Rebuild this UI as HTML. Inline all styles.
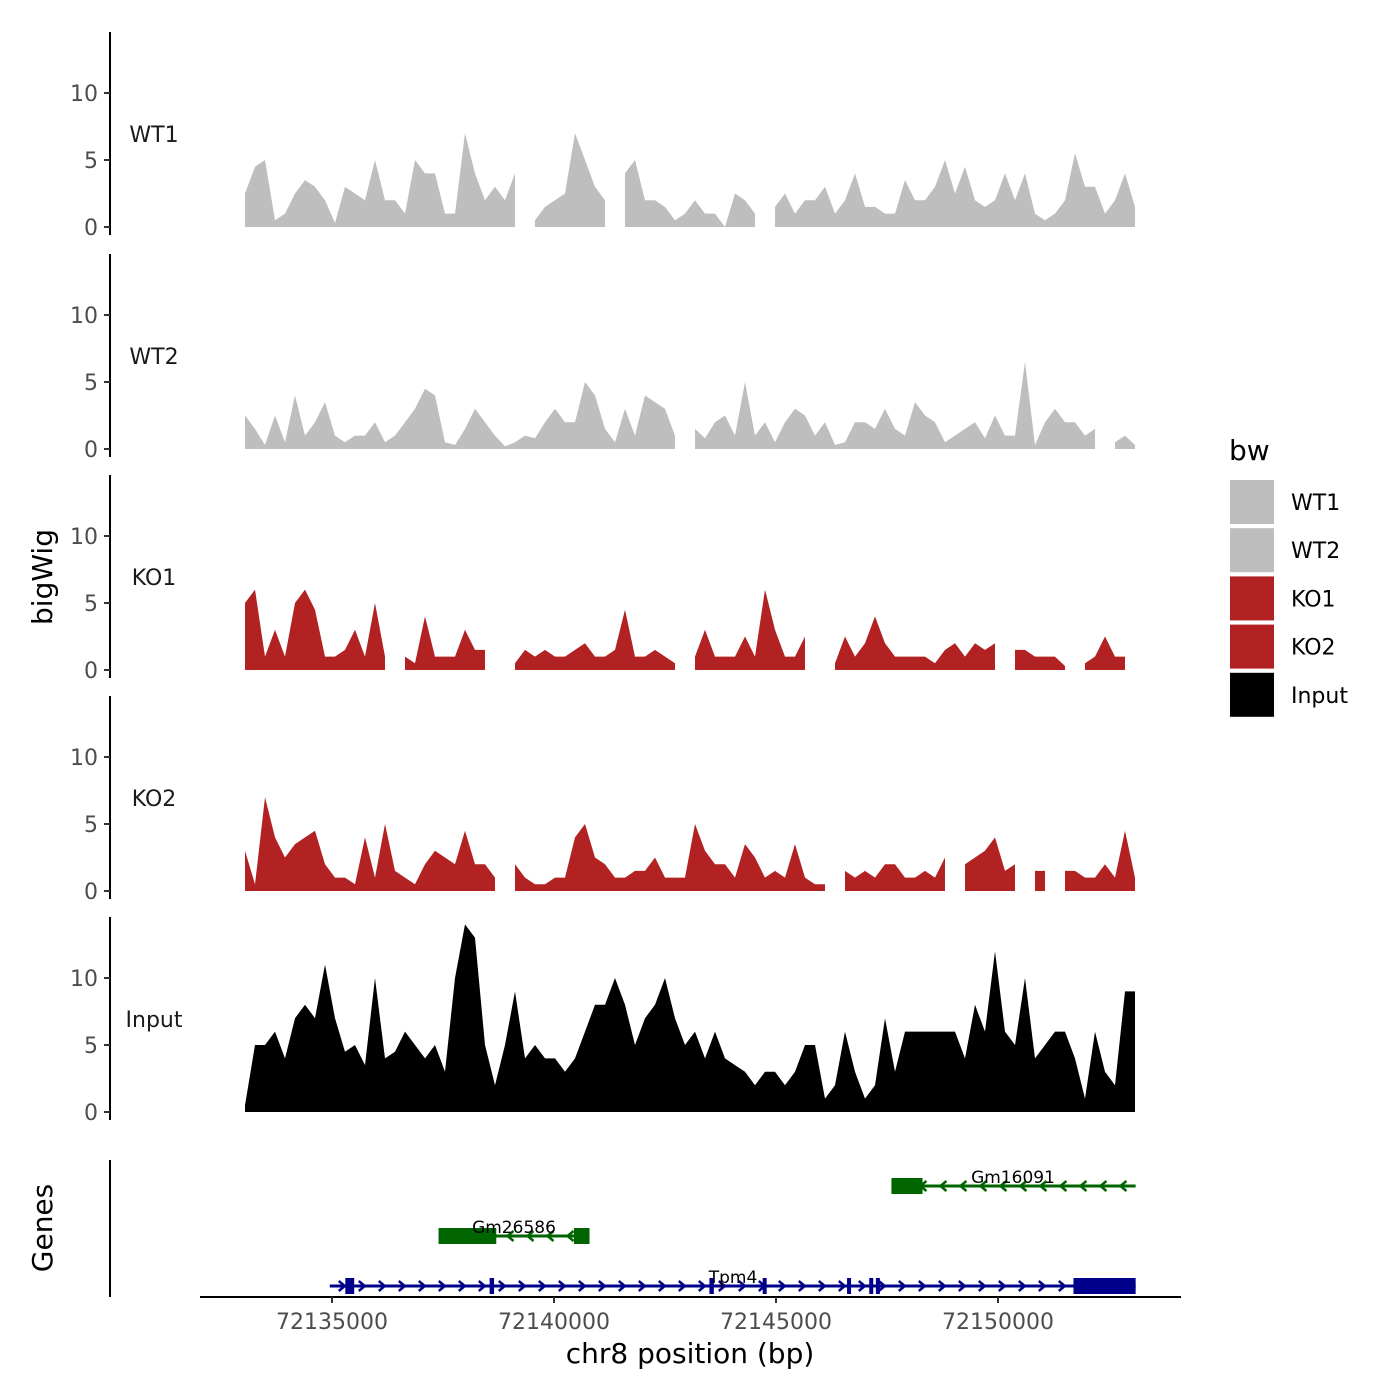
<!DOCTYPE html>
<html><head><meta charset="utf-8"><style>
html,body{margin:0;padding:0;background:#fff;}
svg{display:block;font-family:"DejaVu Sans","Liberation Sans",sans-serif;}
</style></head><body>
<svg id="chart" width="1400" height="1400" xmlns="http://www.w3.org/2000/svg"></svg>
<script>
// ---- data ----
const xStartPx = 245, stepPx = 10; // sampling grid is converted to bp below
const trackNames = ["WT1","WT2","KO1","KO2","Input"];
const trackColors = ["#bebebe","#bebebe","#b22222","#b22222","#000000"];
const wt1Values = [2.5,4.5,5,0.5,1,2.5,3.5,3,2,0.3,3,2.5,2,5,2,2,1,5,4,4,1,1,7,4,2,3,2,4,null,0.5,1.5,2,2.5,7,5,3,2,null,4,5,2,2,1.5,0.5,1,2,1,1,0,2.5,2,1,null,1.5,2.5,1,2,2,3,1,2,4,1.5,1.5,1,1,3.5,2,2,3,5,2.5,4.5,2,1.5,2,4,2,4,1,0.5,1,2,5.5,3,3,1,2,4,1.5];
const wt2Values = [2.5,1.5,0.3,2.5,0.5,4,1,2,3.5,1,0.5,1,1,2,0.5,1,2,3,4.5,4,0.5,0.3,1.5,3,2,1,0.2,0.5,1,0.8,2,3,2,2,5,4,1.5,0.5,3,1,4,3.5,3,1,null,1.5,0.8,2,2.5,1,5,1,2,0.5,2,3,2.5,1,2,0.3,0.5,2,2,1.5,3,1.5,1,3.5,2.5,2,0.5,1,1.5,2,0.8,2.5,1,1,6.5,0.3,2,3,2,2,1,1.5,null,0.5,1,0.3];
const ko1Values = [5,6,1,3,1,5,6,4.5,1,1,1.5,3,1,5,1,null,1,0.5,4,1,1,1,3,1.5,1.5,null,null,0.5,1.5,1,1.5,1,1,1.5,2,1,1,1.5,4.5,1,1,1.5,1,0.5,null,1,3,1,1,1,2.5,1,6,3,1,1,2.5,null,null,0.5,2.5,1,2,4,2,1,1,1,1,0.5,1.5,2,1,2,1.5,2,null,1.5,1.5,1,1,1,0.3,null,0.5,1,2.5,1,1,null];
const ko2Values = [3,0.5,7,4,2.5,3.5,4,4.5,2,1,1,0.5,4,1,5,1.5,1,0.5,2,3,2.5,2,4.5,2,2,1,null,2,1,0.5,0.5,1,1,4,5,2.5,2,1,1,1.5,1.5,2.5,1,1,1,5,3,2,2,1,3.5,2.5,1,1.5,1,3.5,1,0.5,0.5,null,1.5,1,1.5,1,2,2,1,1,1.5,1,2.5,null,2,2.5,3,4,1.5,2,null,1.5,1.5,null,1.5,1.5,1,1,2,1,4.5,1];
const inputValues = [0.5,5,5,6,4,7,8,7,11,7,4.5,5,3.5,10,4,4.5,6,5,4,5,3,10,14,13,5,2,5,9,4,5,4,4,3,4,6,8,8,10,8,5,7,8,10,7,5,6,4,6,4,3.5,3,2,3,3,2,3,5,5,1,2,6,3,1,2,7,3,6,6,6,6,6,6,4,8,6,12,6,5,10,4,5,6,6,4,1,6,3,2,9,9];
const trackValues = [wt1Values,wt2Values,ko1Values,ko2Values,inputValues];
const yTicks = [0,5,10];
const xTicks = [72135000,72140000,72145000,72150000];
const genes = [
 {name:"Gm16091", strand:"-", start:72147600, end:72153100, exons:[[72147600,72148300]], row:0, color:"#006400"},
 {name:"Gm26586", strand:"-", start:72137400, end:72140800, exons:[[72137400,72138700],[72140450,72140800]], row:1, color:"#006400"},
 {name:"Tpm4", strand:"+", start:72134950, end:72153100, exons:[[72135300,72135500],[72138550,72138650],[72143500,72143600],[72144700,72144750],[72146600,72146650],[72147100,72147150],[72147250,72147300],[72151700,72153100]], row:2, color:"#00008b"}
];
// ---- scales ----
const pxPerBp = 222/5000, x0bp = 72135000, x0px = 332;
const xs = bp => x0px + (bp - x0bp)*pxPerBp;
const pxToBp = px => x0bp + (px - x0px)/pxPerBp;
const baselines = [227,449,670,891,1112];
const unitPx = 13.4;
const ys = (i,v) => baselines[i] - Math.min(v,14.3)*unitPx;
const svg = document.getElementById('chart');
const NS = "http://www.w3.org/2000/svg";
function mk(tag, attrs, parent){const e=document.createElementNS(NS,tag);for(const k in attrs)e.setAttribute(k,attrs[k]);(parent||svg).appendChild(e);return e;}
function txt(s,attrs,parent){const e=mk('text',attrs,parent);e.textContent=s;return e;}

trackNames.forEach((name,i)=>{
  const g = mk('g',{});
  
  
  const vals = trackValues[i];
  let seg=[];
  const flush=()=>{
    if(seg.length>0){
      let d='M'+seg[0][0]+','+baselines[i];
      seg.forEach(p=>{d+=' L'+p[0]+','+p[1];});
      d+=' L'+seg[seg.length-1][0]+','+baselines[i]+' Z';
      const p=mk('path',{d:d,fill:trackColors[i],stroke:'none'},g);
      
      
    }
    seg=[];
  };
  vals.forEach((v,k)=>{
    const bp = pxToBp(xStartPx + k*stepPx);
    if(v===null){flush();return;}
    seg.push([xs(bp).toFixed(1), ys(i,v).toFixed(1)]);
  });
  flush();
  const top = baselines[i]-195, bot = baselines[i]+8;
  const ax=mk('line',{x1:110,x2:110,y1:top,y2:bot,stroke:'#000','stroke-width':2});
  
  
  yTicks.forEach(t=>{
    const y=ys(i,t);
    mk('line',{x1:104,x2:110,y1:y,y2:y,stroke:'#333','stroke-width':2});
    const tl=txt(String(t),{x:98,y:y+8,'text-anchor':'end','font-size':22,fill:'#4d4d4d'});
    
    
  });
  const lab=txt(name,{x:154,y:baselines[i]-85,'text-anchor':'middle','font-size':22,fill:'#1a1a1a'});
  
  
});

// gene panel
const ga=mk('line',{x1:110,x2:110,y1:1160,y2:1297,stroke:'#000','stroke-width':2});


const rowY=[1186,1236,1286];
const labelX={"Gm16091":1013,"Gm26586":514,"Tpm4":733};
genes.forEach(gn=>{
  const g=mk('g',{});
  
  
  const y=rowY[gn.row], x1=xs(gn.start), x2=xs(gn.end);
  mk('line',{x1:x1,x2:x2,y1:y,y2:y,stroke:gn.color,'stroke-width':3},g);
  for(let x=x1+12;x<x2-5;x+=20){
    const d = gn.strand==='+' ? `M${x-3},${y-5} L${x+3},${y} L${x-3},${y+5}` : `M${x+3},${y-5} L${x-3},${y} L${x+3},${y+5}`;
    mk('path',{d:d,fill:'none',stroke:gn.color,'stroke-width':2.5},g);
  }
  gn.exons.forEach(e=>{
    const ex=mk('rect',{x:xs(e[0]),y:y-8,width:Math.max(4,xs(e[1])-xs(e[0])),height:16,fill:gn.color},g);
    
    
  });
  const lt=txt(gn.name,{x:labelX[gn.name],y:y-3,'text-anchor':'middle','font-size':17,fill:'#000'},g);
  
  
});

// x axis
const xa=mk('line',{x1:200,x2:1181,y1:1297,y2:1297,stroke:'#000','stroke-width':2});


xTicks.forEach(t=>{
  const x=xs(t);
  mk('line',{x1:x,x2:x,y1:1297,y2:1303,stroke:'#333','stroke-width':2});
  const l=txt(String(t),{x:x,y:1329,'text-anchor':'middle','font-size':22,fill:'#4d4d4d'});
  
  
});
const xt=txt('chr8 position (bp)',{x:690,y:1363,'text-anchor':'middle','font-size':28,fill:'#000'});


const yt=txt('bigWig',{x:0,y:0,'text-anchor':'middle','font-size':28,fill:'#000',transform:'translate(52,577) rotate(-90)'});


const gt=txt('Genes',{x:0,y:0,'text-anchor':'middle','font-size':28,fill:'#000',transform:'translate(52,1228) rotate(-90)'});



// legend
const lg=mk('g',{});


const lgt=txt('bw',{x:1229,y:460,'font-size':28,fill:'#000'},lg);


trackNames.forEach((n,i)=>{
  const y=480+i*48.2;
  const k=mk('rect',{x:1230,y:y,width:44,height:44,fill:trackColors[i]},lg);
  
  
  const l=txt(n,{x:1291,y:y+30,'font-size':22,fill:'#000'},lg);
  
  
});
</script>
</body></html>
